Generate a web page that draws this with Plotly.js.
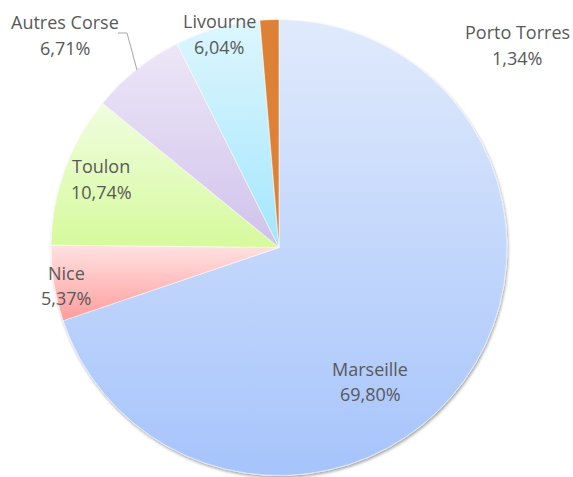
<!DOCTYPE html>
<html>
<head>
<meta charset="utf-8">
<script src="https://cdn.plot.ly/plotly-3.0.1.min.js"></script>
<style>
html,body{margin:0;padding:0;background:#fff;}
#chart{width:573px;height:477px;}
</style>
</head>
<body>
<div id="chart"></div>
<script>
// Data
var labels = ["Marseille", "Nice", "Toulon", "Autres Corse", "Livourne", "Porto Torres"];
var values = [69.80, 5.37, 10.74, 6.71, 6.04, 1.34];
var valueText = ["69,80%", "5,37%", "10,74%", "6,71%", "6,04%", "1,34%"];

// Styles
var baseColors = ["#c3d6fb", "#ffbcbc", "#e3fbbd", "#dfd5f1", "#c2eefd", "#dc8136"];
var gradTop =    ["#e0eafc", "#ffe2e2", "#f0fde0", "#ede7f7", "#ddf6fe", "#dc8136"];
var gradBottom = ["#a6c4fb", "#ff9c9c", "#d6fa9c", "#d0c2ec", "#a4e6fd", "#dc8136"];

var W = 573, H = 477;
function px(x){ return x / W; }
function py(y){ return 1 - y / H; }

// label layout (pixel centres of name line and value line)
var labelPos = [
  {x: 370, y1: 369, y2: 394},
  {x: 66,  y1: 273, y2: 298},
  {x: 101, y1: 166, y2: 192},
  {x: 65,  y1: 22,  y2: 48},
  {x: 219, y1: 21,  y2: 47},
  {x: 517, y1: 32,  y2: 58}
];

var font = {family: "Open Sans, Lato, sans-serif", size: 18, color: "#595959"};
var annotations = [];
labels.forEach(function(l, i){
  var p = labelPos[i];
  annotations.push({x: px(p.x), y: py(p.y1), xref: "paper", yref: "paper", text: l,
    showarrow: false, xanchor: "center", yanchor: "middle", font: font});
  annotations.push({x: px(p.x), y: py(p.y2), xref: "paper", yref: "paper", text: valueText[i],
    showarrow: false, xanchor: "center", yanchor: "middle", font: font});
});

var cx = 279, cy = 247.5, r = 228;
var trace = {
  type: "pie",
  labels: labels,
  values: values,
  sort: false,
  direction: "clockwise",
  rotation: 0,
  textinfo: "none",
  hoverinfo: "none",
  marker: {colors: baseColors, line: {color: "rgba(255,255,255,0.7)", width: 0.8}},
  domain: {x: [px(cx - r), px(cx + r)], y: [py(cy + r), py(cy - r)]},
  showlegend: false
};

var layout = {
  width: W, height: H,
  margin: {l: 0, r: 0, t: 0, b: 0},
  paper_bgcolor: "#ffffff",
  plot_bgcolor: "#ffffff",
  showlegend: false,
  annotations: annotations,
  shapes: [{
    type: "path", xref: "paper", yref: "paper",
    path: "M " + px(118) + " " + py(33) + " L " + px(127) + " " + py(33) + " L " + px(137) + " " + py(70),
    line: {color: "#a6a6a6", width: 1}
  }]
};

Plotly.newPlot("chart", [trace], layout, {displayModeBar: false, staticPlot: true}).then(function(gd){
  var NS = "http://www.w3.org/2000/svg";
  var svg = gd.querySelector("svg.main-svg");
  var defs = svg.querySelector("defs");
  if (!defs) { defs = document.createElementNS(NS, "defs"); svg.insertBefore(defs, svg.firstChild); }
  labels.forEach(function(l, i){
    var g = document.createElementNS(NS, "linearGradient");
    g.setAttribute("id", "sliceGrad" + i);
    g.setAttribute("x1", "0"); g.setAttribute("y1", "0");
    g.setAttribute("x2", "0"); g.setAttribute("y2", "1");
    var s1 = document.createElementNS(NS, "stop");
    s1.setAttribute("offset", "0"); s1.setAttribute("stop-color", gradTop[i]);
    var s2 = document.createElementNS(NS, "stop");
    s2.setAttribute("offset", "1"); s2.setAttribute("stop-color", gradBottom[i]);
    g.appendChild(s1); g.appendChild(s2);
    defs.appendChild(g);
  });
  var f = document.createElementNS(NS, "filter");
  f.setAttribute("id", "pieShadow");
  f.setAttribute("x", "-10%"); f.setAttribute("y", "-10%");
  f.setAttribute("width", "120%"); f.setAttribute("height", "120%");
  var ds = document.createElementNS(NS, "feDropShadow");
  ds.setAttribute("dx", "1"); ds.setAttribute("dy", "2");
  ds.setAttribute("stdDeviation", "1.8");
  ds.setAttribute("flood-color", "#000"); ds.setAttribute("flood-opacity", "0.35");
  f.appendChild(ds);
  defs.appendChild(f);

  var paths = gd.querySelectorAll("g.slice path.surface");
  paths.forEach(function(p, i){
    if (i < labels.length) p.style.fill = "url(#sliceGrad" + i + ")";
  });
  var tr = gd.querySelector(".pielayer g.trace");
  if (tr) tr.setAttribute("filter", "url(#pieShadow)");
});
</script>
</body>
</html>
